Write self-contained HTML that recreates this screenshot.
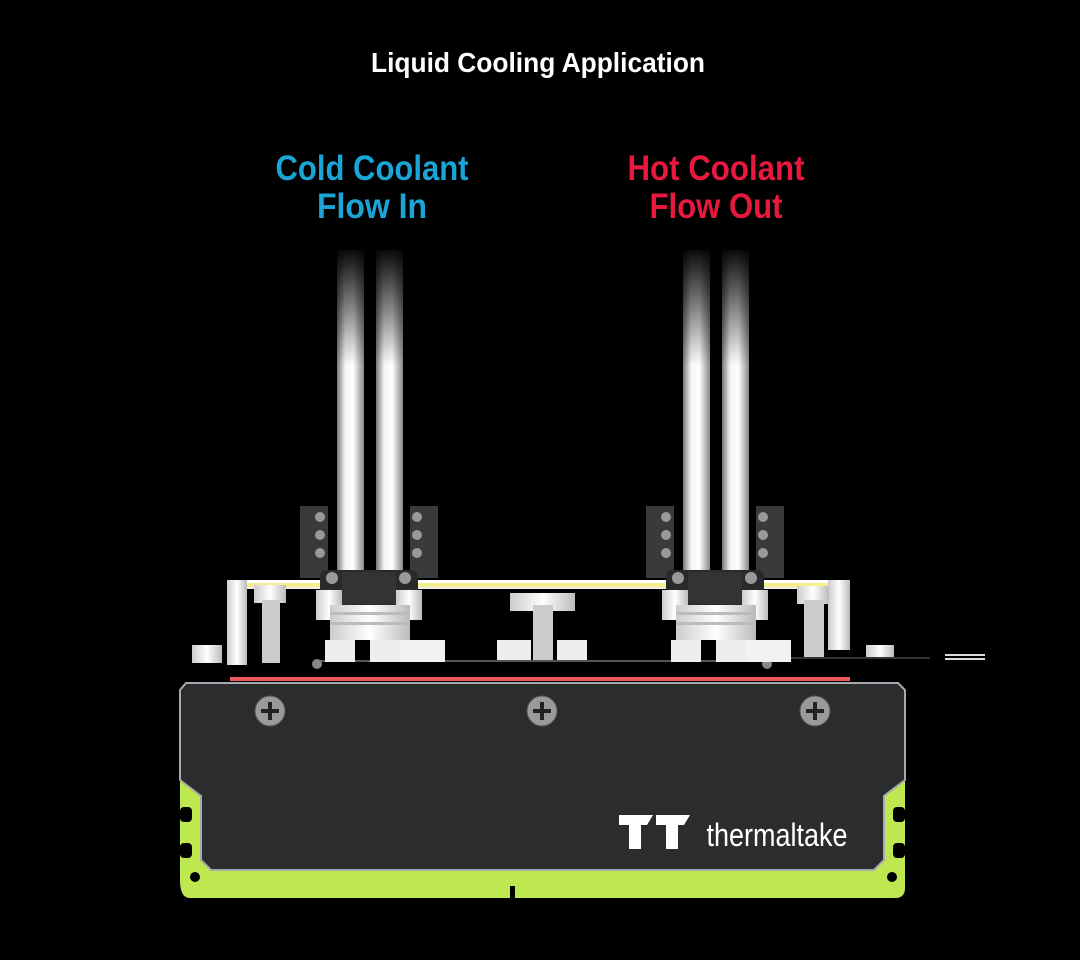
<!DOCTYPE html>
<html><head><meta charset="utf-8"><style>
html,body{margin:0;padding:0;background:#000;}
svg{display:block}
text{font-family:"Liberation Sans",sans-serif;font-weight:bold;text-anchor:middle}
</style></head><body>
<svg width="1080" height="960" viewBox="0 0 1080 960" xmlns="http://www.w3.org/2000/svg">
<defs>
<linearGradient id="tube" x1="0" x2="1" y1="0" y2="0">
<stop offset="0" stop-color="#777"/><stop offset="0.3" stop-color="#f4f4f4"/><stop offset="0.6" stop-color="#fff"/><stop offset="1" stop-color="#888"/>
</linearGradient>
<linearGradient id="fade" x1="0" x2="0" y1="0" y2="1">
<stop offset="0" stop-color="#000" stop-opacity="1"/><stop offset="1" stop-color="#000" stop-opacity="0"/>
</linearGradient>
<linearGradient id="wh" x1="0" x2="1"><stop offset="0" stop-color="#ccc"/><stop offset="0.5" stop-color="#fff"/><stop offset="1" stop-color="#bbb"/></linearGradient>
<g id="fit">
<rect x="337" y="250" width="27" height="330" fill="url(#tube)"/>
<rect x="376" y="250" width="27" height="330" fill="url(#tube)"/>
<rect x="330" y="245" width="80" height="120" fill="url(#fade)"/>
<path d="M300 506h28v72h-28z" fill="#3a3a3c"/>
<path d="M410 506h28v72h-28z" fill="#3a3a3c"/>
<circle cx="320" cy="517" r="5" fill="#999"/><circle cx="320" cy="535" r="5" fill="#999"/><circle cx="320" cy="553" r="5" fill="#999"/>
<circle cx="417" cy="517" r="5" fill="#999"/><circle cx="417" cy="535" r="5" fill="#999"/><circle cx="417" cy="553" r="5" fill="#999"/>
<rect x="320" y="570" width="98" height="35" rx="6" fill="#2a2a2c"/>
<rect x="342" y="572" width="54" height="32" fill="#333"/>
<circle cx="332" cy="578" r="6" fill="#999"/><circle cx="405" cy="578" r="6" fill="#999"/>
<rect x="316" y="590" width="26" height="30" fill="url(#wh)"/>
<rect x="396" y="590" width="26" height="30" fill="url(#wh)"/>
<rect x="330" y="605" width="80" height="35" fill="url(#wh)"/>
<rect x="330" y="612" width="80" height="3" fill="#bbb"/><rect x="330" y="622" width="80" height="3" fill="#bbb"/>
<rect x="325" y="640" width="30" height="22" fill="#eee"/>
<rect x="370" y="640" width="30" height="22" fill="#eee"/>
<rect x="400" y="640" width="45" height="22" fill="#f2f2f2"/>
</g>
</defs>

<text x="538" y="72" font-size="28" fill="#fff" textLength="334" lengthAdjust="spacingAndGlyphs">Liquid Cooling Application</text>
<text x="372" y="180" font-size="35" fill="#1aa5d6" textLength="193" lengthAdjust="spacingAndGlyphs">Cold Coolant</text>
<text x="372" y="218" font-size="35" fill="#1aa5d6" textLength="110" lengthAdjust="spacingAndGlyphs">Flow In</text>
<text x="716" y="180" font-size="35" fill="#e8183f" textLength="177" lengthAdjust="spacingAndGlyphs">Hot Coolant</text>
<text x="716" y="218" font-size="35" fill="#e8183f" textLength="133" lengthAdjust="spacingAndGlyphs">Flow Out</text>

<rect x="228" y="580" width="620" height="3" fill="#fff"/>
<rect x="228" y="583" width="620" height="4" fill="#f5f08a"/>
<rect x="228" y="587" width="620" height="2" fill="#eee"/>
<rect x="227" y="580" width="20" height="85" fill="url(#wh)"/>
<rect x="828" y="580" width="22" height="70" fill="url(#wh)"/>
<rect x="192" y="645" width="30" height="18" fill="url(#wh)"/>
<rect x="866" y="645" width="28" height="12" fill="url(#wh)"/>
<rect x="945" y="654" width="40" height="2" fill="#ddd"/><rect x="945" y="658" width="40" height="2" fill="#ddd"/>
<rect x="254" y="585" width="32" height="18" fill="url(#wh)"/>
<rect x="262" y="600" width="18" height="63" fill="#ccc"/>
<rect x="510" y="593" width="65" height="18" fill="url(#wh)"/>
<rect x="533" y="605" width="20" height="57" fill="#ccc"/>
<rect x="497" y="640" width="34" height="22" fill="#eee"/><rect x="557" y="640" width="30" height="22" fill="#eee"/>
<rect x="797" y="586" width="32" height="18" fill="url(#wh)"/>
<rect x="804" y="600" width="20" height="58" fill="#ccc"/>
<rect x="315" y="660" width="455" height="2" fill="#555"/>
<rect x="790" y="657" width="140" height="2" fill="#333"/>
<circle cx="317" cy="664" r="5" fill="#888"/><circle cx="767" cy="664" r="5" fill="#888"/>
<use href="#fit"/>
<use href="#fit" transform="translate(346 0)"/>

<rect x="230" y="677" width="620" height="4" fill="#f05a5e"/>

<path d="M180 780 V880 Q180 898 190 898 L510 898 V886 h5 V898 L895 898 Q905 898 905 888 V780 Z" fill="#bde84f"/>
<rect x="180" y="807" width="12" height="15" rx="4" fill="#000"/><rect x="180" y="843" width="12" height="15" rx="4" fill="#000"/>
<rect x="893" y="807" width="12" height="15" rx="4" fill="#000"/><rect x="893" y="843" width="12" height="15" rx="4" fill="#000"/>
<circle cx="195" cy="877" r="5" fill="#000"/><circle cx="892" cy="877" r="5" fill="#000"/>
<path d="M186 683 H898 L905 690 V780 L884 796 V860 L874 870 H211 L201 860 V796 L180 780 V690 Z" fill="#2b2c2e" stroke="#a8a8b0" stroke-width="2"/>
<g fill="#9a9a9c" stroke="#555" stroke-width="1">
<circle cx="270" cy="711" r="15"/><circle cx="542" cy="711" r="15"/><circle cx="815" cy="711" r="15"/>
</g>
<g stroke="#222" stroke-width="4">
<path d="M261 711h18M270 702v18"/><path d="M533 711h18M542 702v18"/><path d="M806 711h18M815 702v18"/>
</g>
<path d="M619 815h34l-6 10h-6v24h-12v-24h-10z M656 815h34l-6 10h-6v24h-12v-24h-10z" fill="#fff"/>
<text x="777" y="846" font-size="32" fill="#fff" textLength="141" lengthAdjust="spacingAndGlyphs" style="font-weight:normal">thermaltake</text>
</svg>
</body></html>
